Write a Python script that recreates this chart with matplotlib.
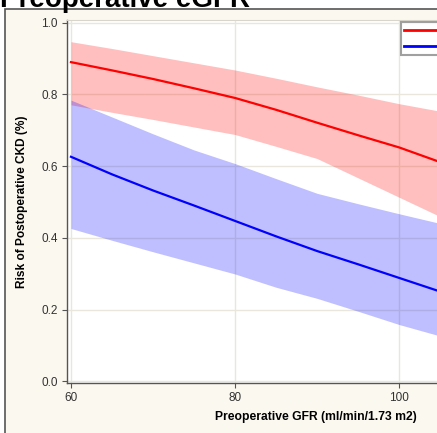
import matplotlib
matplotlib.use('Agg')
from matplotlib import pyplot
from matplotlib.patches import Rectangle
from matplotlib.lines import Line2D

# values
gfr = [60, 65, 70, 75, 80, 85, 90, 95, 100, 105]
red_risk = [0.890, 0.867, 0.843, 0.817, 0.790, 0.757, 0.721, 0.686, 0.652, 0.611]
red_upper = [0.947, 0.928, 0.908, 0.888, 0.868, 0.845, 0.821, 0.798, 0.774, 0.753]
red_lower = [0.771, 0.750, 0.730, 0.709, 0.688, 0.655, 0.621, 0.567, 0.513, 0.459]
blue_risk = [0.626, 0.577, 0.532, 0.490, 0.447, 0.404, 0.363, 0.326, 0.288, 0.250]
blue_upper = [0.784, 0.737, 0.690, 0.645, 0.607, 0.565, 0.524, 0.495, 0.467, 0.440]
blue_lower = [0.426, 0.393, 0.361, 0.330, 0.299, 0.262, 0.231, 0.195, 0.158, 0.126]
xticks = [60, 80, 100]
yticks = [0.0, 0.2, 0.4, 0.6, 0.8, 1.0]

W, H = 437, 433
pyplot.rcParams['font.family'] = ['Liberation Sans', 'DejaVu Sans']

fig = pyplot.figure(figsize=(W/100, H/100), dpi=100, facecolor='white')

# cream frame of the graph, kept behind the axes
frame = Rectangle((5/W, -0.1), 2, 1 - 9/H + 0.1, transform=fig.transFigure,
                  facecolor='#FBF8EF', edgecolor='#555555', linewidth=1.2, zorder=-5)
fig.patches.append(frame)
fig.text(0/W, 1 - 7/H, 'Preoperative eGFR', fontsize=20, fontweight='bold', ha='left', va='baseline')

# the plot area runs on past the right edge of the picture (cropped graph)
ax = fig.add_axes([66.7/W, 1 - 383/H, (565 - 66.7)/W, (383 - 20)/H])
ax.set_zorder(1)
ax.set_facecolor('white')

ax.fill_between(gfr, red_lower, red_upper, color='#FF0000', alpha=0.25, linewidth=0, zorder=2)
ax.fill_between(gfr, blue_lower, blue_upper, color='#0000FF', alpha=0.25, linewidth=0, zorder=2)
ax.plot(gfr, red_risk, color='#FF0000', linewidth=1.6, zorder=3)
ax.plot(gfr, blue_risk, color='#0000FF', linewidth=1.6, zorder=3)

ax.set_xlim(59.48, 120.2)
ax.set_ylim(-0.005, 1.0075)
ax.set_xticks(xticks)
ax.set_yticks(yticks)
ax.set_yticklabels(['%.1f' % v for v in yticks])
ax.grid(True, color='#E9E7DD', linewidth=1.0, zorder=1)
ax.set_axisbelow(True)
ax.tick_params(colors='#555555', labelcolor='#333333', labelsize=8.5, length=3.5, width=0.8, pad=3)
for side in ['left', 'bottom']:
    ax.spines[side].set_color('#555555')
    ax.spines[side].set_linewidth(1.0)
for side in ['top', 'right']:
    ax.spines[side].set_color('#D8D6CC')

ax.set_xlabel('Preoperative GFR (ml/min/1.73 m2)', fontsize=8.7, fontweight='bold')
ax.set_ylabel('Risk of Postoperative CKD (%)', fontsize=8.6, fontweight='bold')
ax.xaxis.set_label_coords(0.5, -0.078)
ax.yaxis.set_label_coords(-0.077, 0.5)

# legend box: only the line samples are visible in the cropped reference
handles = [Line2D([], [], color='#FF0000', linewidth=2), Line2D([], [], color='#0000FF', linewidth=2)]
leg = ax.legend(handles, ['', ''], loc='upper left', bbox_to_anchor=(400.7/W, 1 - 22.3/H),
                bbox_transform=fig.transFigure,
                fontsize=7.5, frameon=True, fancybox=False, borderpad=0.3, handlelength=4,
                handletextpad=0.5, labelspacing=0.6, borderaxespad=0)
leg.get_frame().set_edgecolor('#888888')
leg.get_frame().set_linewidth(1.5)
leg.get_frame().set_facecolor('white')

pyplot.savefig('out.png', dpi=100)
pyplot.close()
